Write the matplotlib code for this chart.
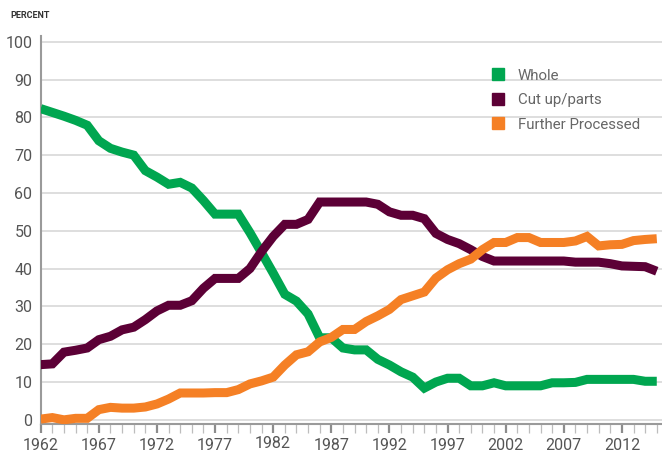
import matplotlib
matplotlib.use("Agg")
import matplotlib.pyplot as plt
from matplotlib.lines import Line2D

plt.rcParams['font.family'] = ['Roboto', 'DejaVu Sans']

years = list(range(1962, 2016))

whole = [82.3, 81.3, 80.3, 79.2, 77.9, 73.8, 71.8, 70.8, 70.0, 65.9,
         64.2, 62.3, 62.8, 61.3, 58.0, 54.4, 54.4, 54.4, 49.5, 44.2,
         38.8, 33.2, 31.4, 28.0, 21.7, 21.7, 19.0, 18.5, 18.5, 16.0,
         14.5, 12.7, 11.3, 8.4, 10.0, 11.0, 11.0, 9.0, 9.0, 9.8,
         9.0, 9.0, 9.0, 9.0, 9.8, 9.8, 9.9, 10.7, 10.7, 10.7,
         10.7, 10.7, 10.2, 10.2]

cut_up = [14.6, 14.8, 17.9, 18.4, 19.0, 21.2, 22.1, 23.8, 24.5, 26.5,
          28.8, 30.3, 30.3, 31.5, 34.8, 37.4, 37.4, 37.4, 40.0, 44.5,
          48.5, 51.7, 51.7, 53.0, 57.6, 57.6, 57.6, 57.6, 57.6, 57.0,
          55.0, 54.1, 54.1, 53.2, 49.3, 47.7, 46.6, 45.0, 43.2, 42.0,
          42.0, 42.0, 42.0, 42.0, 42.0, 42.0, 41.7, 41.7, 41.7, 41.3,
          40.7, 40.6, 40.5, 39.3]

further = [0.2, 0.6, 0.0, 0.4, 0.4, 2.7, 3.3, 3.1, 3.1, 3.4,
           4.2, 5.5, 7.1, 7.1, 7.1, 7.2, 7.2, 8.0, 9.5, 10.3,
           11.3, 14.5, 17.2, 18.0, 20.6, 21.8, 23.9, 23.9, 26.0, 27.5,
           29.2, 31.8, 32.8, 33.8, 37.5, 39.7, 41.3, 42.5, 45.0, 46.9,
           46.9, 48.2, 48.2, 46.9, 46.9, 46.9, 47.3, 48.5, 46.0, 46.3,
           46.4, 47.4, 47.7, 47.9]

labels = ["Whole", "Cut up/parts", "Further Processed"]
colors = ["#00a650", "#5c0036", "#f58025"]
series = [whole, cut_up, further]

y_ticks = list(range(0, 101, 10))
x_major = list(range(1962, 2016, 5))

fig = plt.figure(figsize=(6.62, 4.53), dpi=100)
ax = fig.add_axes([0.0615, 0.064, 0.9385, 0.8565])

for vals, col, lab in zip(series, colors, labels):
    ax.plot(years, vals, color=col, lw=6.5, solid_joinstyle='miter',
            solid_capstyle='butt', label=lab, zorder=3)

ax.set_xlim(1962, 2015.45)
ax.set_ylim(-1.1, 101.5)

ax.set_yticks(y_ticks)
ax.set_yticklabels([str(v) for v in y_ticks])
ax.yaxis.grid(True, color="#d4d4d4", lw=1.1)
ax.set_axisbelow(True)
ax.tick_params(axis='y', length=0, pad=6, labelsize=11.5, labelcolor="#555555")

ax.set_xticks(x_major)
ax.set_xticklabels([str(v) for v in x_major])
ax.set_xticks(years, minor=True)
ax.tick_params(axis='x', which='major', direction='out', length=6.5, width=1.6,
               color="#8c8c8c", pad=3.5, labelsize=11.5, labelcolor="#555555")
ax.tick_params(axis='x', which='minor', direction='out', length=6.5, width=0.9,
               color="#bdbdbd")
# the 1982 label sits slightly higher in the original
for t in ax.xaxis.get_major_ticks():
    if t.get_loc() == 1982:
        t.set_pad(2.0)

for s in ['top', 'right']:
    ax.spines[s].set_visible(False)
ax.spines['left'].set_color("#9a9a9a")
ax.spines['left'].set_linewidth(1.5)
ax.spines['bottom'].set_color("#9a9a9a")
ax.spines['bottom'].set_linewidth(1.5)

handles = [Line2D([], [], marker='s', linestyle='none', markersize=9,
                  markerfacecolor=c, markeredgecolor=c) for c in colors]
leg = fig.legend(handles, labels, loc='upper left',
                 bbox_to_anchor=(0.73, 0.865), frameon=False,
                 fontsize=10.8, handlelength=0.9, handletextpad=0.9,
                 labelspacing=0.7, borderpad=0)
for t in leg.get_texts():
    t.set_color("#666666")

fig.text(0.015, 0.966, "PERCENT", fontsize=6.5, fontweight='bold',
         color="#333333", ha='left', va='center')

fig.savefig("out.png", dpi=100)
